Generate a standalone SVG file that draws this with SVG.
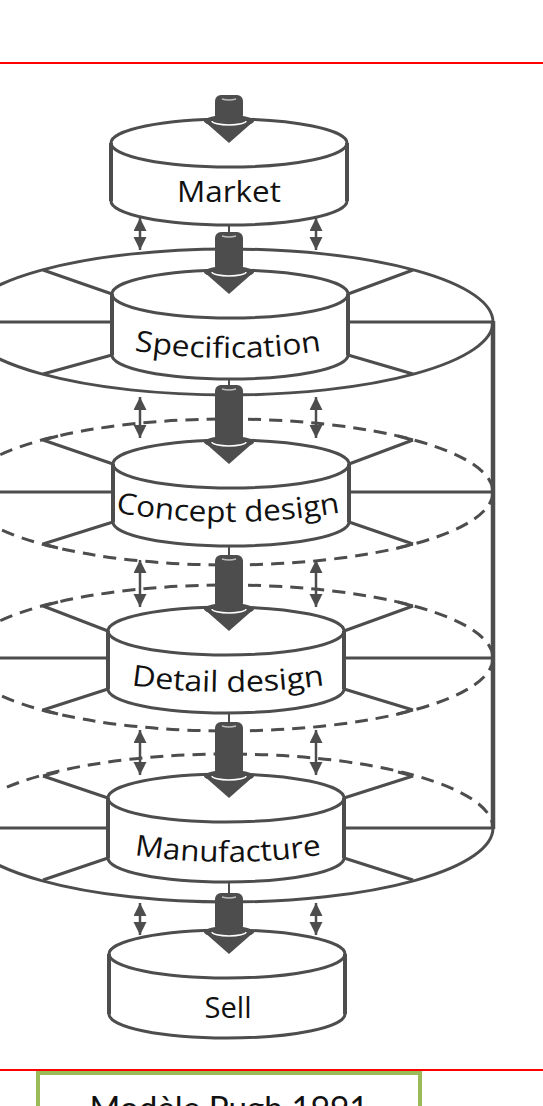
<svg xmlns="http://www.w3.org/2000/svg" width="543" height="1106" viewBox="0 0 543 1106">
<style>
.ln{fill:none;stroke:#4d4d4d;stroke-width:3}
.dash{fill:none;stroke:#4d4d4d;stroke-width:3;stroke-dasharray:13 8}
.wall{fill:none;stroke:#4d4d4d;stroke-width:4}
.cyl{fill:#fff;stroke:#4d4d4d;stroke-width:3}
.shaft,.head{fill:#4d4d4d}
.rim{fill:none;stroke:#fff;stroke-width:1.5}
.hl{fill:none;stroke:#bdbdbd;stroke-width:1.5}
.stem{stroke:#4d4d4d;stroke-width:2}
.dbl{stroke:#4d4d4d;stroke-width:2.5;marker-start:url(#ah);marker-end:url(#ah)}
.lbl{font-family:"Open Sans","Liberation Sans",sans-serif;font-size:29px;fill:#111}
.red{stroke:#ff0000;stroke-width:2}
</style>
<defs>
<marker id="ah" markerUnits="userSpaceOnUse" markerWidth="14" markerHeight="14" refX="13" refY="6.5" orient="auto-start-reverse">
<path d="M0,0 L13,6.5 L0,13 Z" fill="#4d4d4d"/>
</marker>
<path id="p1" d="M118,348 Q228,368 338,348"/>
<path id="p2" d="M102,510 Q228,534 354,510"/>
<path id="p3" d="M118,683 Q228,701 338,683"/>
<path id="p4" d="M118,852 Q228,872 338,852"/>
</defs>

<g id="frame">
<line class="red" x1="0" y1="63" x2="543" y2="63"/>
<line class="red" x1="0" y1="1070" x2="543" y2="1070"/>
</g>

<g id="caption">
<rect x="38" y="1073" width="382" height="60" fill="#fff" stroke="#9bbb59" stroke-width="4"/>
<text x="229" y="1120" text-anchor="middle" font-family="Lato,'Open Sans','Liberation Sans',sans-serif" font-size="32" fill="#111" textLength="279" lengthAdjust="spacingAndGlyphs">Modèle Pugh 1991</text>
</g>

<g id="frame-structure">
<ellipse class="dash" cx="228" cy="492" rx="265" ry="73"/>
<ellipse class="dash" cx="228" cy="658" rx="265" ry="73"/>
<path class="dash" d="M-37,828 A265,74 0 0 1 493,828"/>
<ellipse class="ln" cx="228" cy="322" rx="265" ry="73"/>
<path class="ln" d="M493,828 A265,74 0 0 1 -37,828"/>
<line x1="493" y1="321" x2="493" y2="829" stroke="#4d4d4d" stroke-width="4.5"/>
<path class="ln" d="M0,322 H112 M348,322 H493 M0,492 H113 M349,492 H493 M0,658 H108 M344,658 H493 M0,828 H108 M344,828 H493"/>
<path class="ln" d="M43,270 L112,294 M413,270 L348,294 M112,355 L43,374 M348,355 L413,374"/>
<path class="ln" d="M43,440 L113,464 M413,440 L349,464 M113,522 L43,544 M349,522 L413,544 M58,436 L43,440 M398,436 L413,440 M58,548 L43,544 M398,548 L413,544"/>
<path class="ln" d="M43,606 L108,631 M413,606 L344,631 M108,689 L43,710 M344,689 L413,710 M58,602 L43,606 M398,602 L413,606 M58,714 L43,710 M398,714 L413,710"/>
<path class="ln" d="M43,776 L108,798 M413,776 L344,798 M108,858 L43,880 M344,858 L413,880 M58,772 L43,776 M398,772 L413,776"/>
</g>

<g id="market">
<path class="cyl" d="M111,143 A118,24 0 0 1 347,143 L347,201 A118,24 0 0 1 111,201 Z"/>
<path class="ln" d="M111,143 A118,24 0 0 0 347,143"/>
<path class="wall" d="M111,143 V201 M347,143 V201"/>
<text class="lbl" x="229" y="202" text-anchor="middle" textLength="104" lengthAdjust="spacingAndGlyphs">Market</text>
</g>

<g id="specification">
<path class="cyl" d="M112,294 A118,24 0 0 1 348,294 L348,355 A118,24 0 0 1 112,355 Z"/>
<path class="ln" d="M112,294 A118,24 0 0 0 348,294"/>
<path class="wall" d="M112,294 V355 M348,294 V355"/>
<text class="lbl" text-anchor="middle"><textPath href="#p1" startOffset="50%" textLength="188" lengthAdjust="spacingAndGlyphs">Specification</textPath></text>
</g>

<g id="concept-design">
<path class="cyl" d="M113,464 A118,24 0 0 1 349,464 L349,522 A118,24 0 0 1 113,522 Z"/>
<path class="ln" d="M113,464 A118,24 0 0 0 349,464"/>
<path class="wall" d="M113,464 V522 M349,464 V522"/>
<text class="lbl" text-anchor="middle"><textPath href="#p2" startOffset="50%" textLength="226" lengthAdjust="spacingAndGlyphs">Concept design</textPath></text>
</g>

<g id="detail-design">
<path class="cyl" d="M108,631 A118,24 0 0 1 344,631 L344,689 A118,24 0 0 1 108,689 Z"/>
<path class="ln" d="M108,631 A118,24 0 0 0 344,631"/>
<path class="wall" d="M108,631 V689 M344,631 V689"/>
<text class="lbl" text-anchor="middle"><textPath href="#p3" startOffset="50%" textLength="194" lengthAdjust="spacingAndGlyphs">Detail design</textPath></text>
</g>

<g id="manufacture">
<path class="cyl" d="M108,798 A118,24 0 0 1 344,798 L344,858 A118,24 0 0 1 108,858 Z"/>
<path class="ln" d="M108,798 A118,24 0 0 0 344,798"/>
<path class="wall" d="M108,798 V858 M344,798 V858"/>
<text class="lbl" text-anchor="middle"><textPath href="#p4" startOffset="50%" textLength="188" lengthAdjust="spacingAndGlyphs">Manufacture</textPath></text>
</g>

<g id="sell">
<path class="cyl" d="M109,954 A118,24 0 0 1 345,954 L345,1014 A118,24 0 0 1 109,1014 Z"/>
<path class="ln" d="M109,954 A118,24 0 0 0 345,954"/>
<path class="wall" d="M109,954 V1014 M345,954 V1014"/>
<text class="lbl" x="228" y="1018" text-anchor="middle" textLength="47" lengthAdjust="spacingAndGlyphs">Sell</text>
</g>

<g id="connectors">
<path class="stem" d="M229,225 V234 M229,379 V387 M229,546 V557 M229,713 V724 M229,882 V895"/>
<!-- A0 -->
<ellipse class="head" cx="229" cy="121" rx="25" ry="6"/><path class="head" d="M204,121 L254,121 L229,143 Z"/>
<rect class="shaft" x="215" y="95" width="28" height="26" rx="6"/>
<path class="rim" d="M212,121 A17,4 0 0 0 246,121"/><path class="hl" d="M222,99 Q229,101 236,99"/>
<!-- A1 -->
<ellipse class="head" cx="229" cy="272" rx="25" ry="6"/><path class="head" d="M204,272 L254,272 L229,294 Z"/>
<rect class="shaft" x="215" y="232" width="28" height="40" rx="6"/>
<path class="rim" d="M212,272 A17,4 0 0 0 246,272"/><path class="hl" d="M222,236 Q229,238 236,236"/>
<!-- A2 -->
<ellipse class="head" cx="229" cy="442" rx="25" ry="6"/><path class="head" d="M204,442 L254,442 L229,464 Z"/>
<rect class="shaft" x="215" y="385" width="28" height="57" rx="6"/>
<path class="rim" d="M212,442 A17,4 0 0 0 246,442"/><path class="hl" d="M222,389 Q229,391 236,389"/>
<!-- A3 -->
<ellipse class="head" cx="229" cy="609" rx="25" ry="6"/><path class="head" d="M204,609 L254,609 L229,631 Z"/>
<rect class="shaft" x="215" y="555" width="28" height="54" rx="6"/>
<path class="rim" d="M212,609 A17,4 0 0 0 246,609"/><path class="hl" d="M222,559 Q229,561 236,559"/>
<!-- A4 -->
<ellipse class="head" cx="229" cy="776" rx="25" ry="6"/><path class="head" d="M204,776 L254,776 L229,798 Z"/>
<rect class="shaft" x="215" y="722" width="28" height="54" rx="6"/>
<path class="rim" d="M212,776 A17,4 0 0 0 246,776"/><path class="hl" d="M222,726 Q229,728 236,726"/>
<!-- A5 -->
<ellipse class="head" cx="229" cy="932" rx="25" ry="6"/><path class="head" d="M204,932 L254,932 L229,954 Z"/>
<rect class="shaft" x="215" y="893" width="28" height="39" rx="6"/>
<path class="rim" d="M212,932 A17,4 0 0 0 246,932"/><path class="hl" d="M222,897 Q229,899 236,897"/>
<!-- double arrows -->
<line class="dbl" x1="140" y1="218" x2="140" y2="250"/>
<line class="dbl" x1="316" y1="218" x2="316" y2="250"/>
<line class="dbl" x1="140" y1="397" x2="140" y2="438"/>
<line class="dbl" x1="316" y1="397" x2="316" y2="438"/>
<line class="dbl" x1="140" y1="560" x2="140" y2="607"/>
<line class="dbl" x1="316" y1="560" x2="316" y2="607"/>
<line class="dbl" x1="140" y1="730" x2="140" y2="775"/>
<line class="dbl" x1="316" y1="730" x2="316" y2="775"/>
<line class="dbl" x1="140" y1="903" x2="140" y2="935"/>
<line class="dbl" x1="316" y1="903" x2="316" y2="935"/>
</g>
</svg>
